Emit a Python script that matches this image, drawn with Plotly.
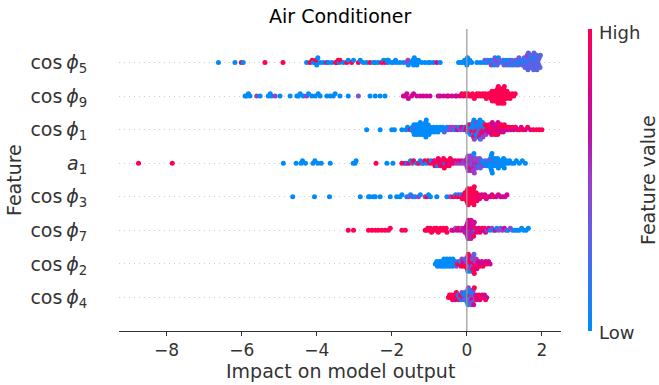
import numpy as np
import plotly.graph_objects as go

# ---------------- data (SHAP value, normalised feature value) ----------------
feature_labels = [
    "cos\u2009<i>ϕ</i><sub>5</sub>",
    "cos\u2009<i>ϕ</i><sub>9</sub>",
    "cos\u2009<i>ϕ</i><sub>1</sub>",
    "<i>a</i><sub>1</sub>",
    "cos\u2009<i>ϕ</i><sub>3</sub>",
    "cos\u2009<i>ϕ</i><sub>7</sub>",
    "cos\u2009<i>ϕ</i><sub>2</sub>",
    "cos\u2009<i>ϕ</i><sub>4</sub>",
]

cos_phi5 = [
    (-6.62, 0), (-6.18, 0), (-6.01, 1), (-5.96, 0), (-5.38, 1), (-4.90, 1),
    (-4.27, 0), (-4.18, 1), (-4.12, 1), (-4.09, 0), (-4.04, 0), (-4.02, 1), (-4.0, 0), (-3.97, 0),
    (-3.91, 0), (-3.82, 0), (-3.73, 1), (-3.69, 0), (-3.6, 0), (-3.5, 1), (-3.47, 1), (-3.43, 1),
    (-3.4, 0), (-3.38, 1), (-3.29, 0), (-3.2, 1), (-3.16, 0), (-3.07, 1), (-3.02, 0), (-2.89, 1),
    (-2.84, 0), (-2.76, 0), (-2.67, 0), (-2.58, 1), (-2.49, 0), (-2.44, 0), (-2.36, 0), (-2.27, 1),
    (-2.22, 0), (-2.18, 1), (-2.13, 0), (-2.1, 0), (-2.09, 0), (-2.0, 0), (-1.96, 0), (-1.9, 0),
    (-1.87, 0), (-1.78, 0), (-1.69, 0), (-1.6, .5), (-1.57, .5), (-1.56, 0), (-1.47, 0), (-1.44, 0),
    (-1.42, 0), (-1.4, 0), (-1.38, 0), (-1.35, 0), (-1.33, 0), (-1.31, 0), (-1.29, 0), (-1.2, 0),
    (-1.11, 0), (-1.02, 0), (-0.98, 0), (-0.89, 0), (-0.8, .75), (-0.71, 0),
    (-0.22, 0), (-0.15, 0), (-0.1, 0), (-0.06, 0), (-0.03, 0), (-0.01, 0), (0.0, 0), (0.02, 0),
    (0.05, 0), (0.08, 0), (0.13, 0),
    (0.27, 0), (0.36, 0), (0.45, 0), (0.48, .3), (0.53, 0), (0.56, .3),
    (0.62, .3), (0.63, 0), (0.65, .5), (0.7, .3), (0.71, .3), (0.73, 0), (0.75, .3),
    (0.78, .3), (0.79, .5), (0.81, .3), (0.84, 0), (0.86, .3), (0.87, .3),
    (0.95, 0), (0.97, .3), (0.99, .3), (1.03, .3), (1.05, 0), (1.07, .3),
    (1.12, .3), (1.13, 0), (1.15, .3), (1.17, .3), (1.2, .3), (1.22, 0), (1.24, .3),
    (1.3, .3), (1.31, .3), (1.33, 0), (1.35, .3), (1.38, .3), (1.39, .3), (1.41, 0),
    (1.47, .3), (1.48, .3), (1.5, .3), (1.51, 0), (1.52, .3), (1.53, .3),
    (1.55, .3), (1.56, .3), (1.57, 0), (1.58, .3), (1.59, .3), (1.6, .3), (1.61, .5),
    (1.63, .3), (1.64, .3), (1.65, 0), (1.66, .3), (1.67, .3), (1.68, .3), (1.69, .3), (1.7, .3),
    (1.72, .3), (1.73, .3), (1.74, .3), (1.75, 0), (1.76, .3), (1.77, .3), (1.78, .3), (1.79, .3),
    (1.81, .3), (1.82, .3), (1.83, .3), (1.84, 0), (1.85, .3), (1.86, .3), (1.87, .3),
    (1.89, .3), (1.9, .3), (1.92, .3), (1.93, .3), (1.95, .3), (1.96, .3),
]

cos_phi9 = [
    (-5.91, 0), (-5.87, 0), (-5.82, 0), (-5.78, 0), (-5.6, .5), (-5.51, 0), (-5.29, 0), (-5.24, 0),
    (-5.2, 0), (-5.11, .5), (-4.98, 0), (-4.71, 0), (-4.53, 0), (-4.49, 0), (-4.44, 0), (-4.36, 0),
    (-4.27, .5), (-4.22, 0), (-4.13, 0), (-4.04, 0), (-3.96, 0), (-3.91, 0), (-3.73, 0), (-3.64, 0),
    (-3.56, 0), (-3.51, 0), (-3.38, 0), (-3.16, 0), (-2.89, .4), (-2.58, 0), (-2.44, 0), (-2.31, 0),
    (-2.18, 0),
    (-1.69, .75), (-1.64, .75), (-1.6, .75), (-1.56, .7), (-1.47, .75), (-1.42, .75), (-1.33, .7),
    (-1.24, .75), (-1.16, .75), (-1.07, .75), (-0.98, .7), (-0.76, .75), (-0.71, .75), (-0.62, .7),
    (-0.53, .75), (-0.49, .75), (-0.4, .75), (-0.31, .7), (-0.27, .75), (-0.18, .75), (-0.13, 1),
    (-0.09, 1), (-0.05, 1), (0.0, 1), (0.03, 1), (0.08, 1), (0.12, 1), (0.15, 1), (0.2, 1),
    (0.23, 1), (0.27, 1), (0.31, 1), (0.34, 1), (0.38, 1), (0.42, 1), (0.45, 1), (0.49, 1),
    (0.52, 1), (0.55, 1), (0.58, 1), (0.6, 1), (0.63, 1), (0.65, 1),
    (0.67, 1), (0.68, 1), (0.7, 1), (0.71, 1), (0.72, 1),
    (0.74, 1), (0.75, 1), (0.76, 1), (0.77, 1), (0.78, 1), (0.79, 1), (0.8, 1),
    (0.82, 1), (0.83, 1), (0.84, 1), (0.85, 1), (0.86, 1), (0.87, 1), (0.88, 1), (0.89, 1),
    (0.9, 1), (0.91, 1), (0.92, 1), (0.93, 1), (0.94, 1), (0.95, 1), (0.96, 1),
    (0.98, 1), (0.99, 1), (1.0, 1), (1.01, 1), (1.02, 1),
    (1.05, 1), (1.07, 1), (1.09, 1), (1.12, 1), (1.15, 1), (1.18, 1), (1.21, 1), (1.25, 1), (1.29, 1),
]

cos_phi1 = [
    (-2.67, 0), (-2.31, 0), (-2.0, 0), (-1.93, 0), (-1.73, 0), (-1.62, 0), (-1.58, 0), (-1.51, 1),
    (-1.47, 0), (-1.45, 0),
    (-1.42, 0), (-1.41, 0), (-1.4, 0), (-1.38, 0), (-1.37, .3), (-1.35, 0), (-1.34, 0), (-1.33, 0),
    (-1.31, 0), (-1.3, 0), (-1.28, 0), (-1.27, 0), (-1.25, 0), (-1.24, 0), (-1.22, 0), (-1.21, 0),
    (-1.2, 0), (-1.18, 0), (-1.17, 0), (-1.16, 0), (-1.14, 0), (-1.13, 0), (-1.12, 0), (-1.11, 0),
    (-1.1, 0), (-1.09, 0), (-1.08, 0), (-1.07, 0), (-1.06, 0), (-1.04, 0), (-1.03, 0), (-1.01, 0),
    (-0.99, 0), (-0.97, 0),
    (-0.94, 0), (-0.91, 0), (-0.88, 0), (-0.86, 0), (-0.83, 0), (-0.8, 0), (-0.77, 0), (-0.74, 0),
    (-0.71, 0), (-0.68, 0), (-0.64, 0), (-0.6, .3), (-0.56, 0), (-0.53, 0), (-0.49, .3), (-0.45, .5),
    (-0.41, .5), (-0.37, .5), (-0.33, 0), (-0.29, .5), (-0.25, .75), (-0.21, 0), (-0.17, .5),
    (-0.13, 1), (-0.09, .5), (-0.05, 0), (-0.02, .75),
    (0.0, 1), (0.02, 0), (0.04, .5), (0.05, 1), (0.06, 0), (0.08, .3), (0.09, 1), (0.1, 0),
    (0.12, .5), (0.13, 0), (0.14, 1),
    (0.15, 0), (0.16, .3), (0.17, 0), (0.18, 1), (0.19, 0), (0.2, .5), (0.21, 0), (0.22, .3),
    (0.23, 1), (0.24, 0), (0.25, 0), (0.26, .5), (0.27, 0), (0.28, 1), (0.29, 0), (0.3, .3),
    (0.31, 0), (0.32, .5), (0.33, 0), (0.34, 1), (0.35, 0), (0.36, .3), (0.37, 0), (0.38, .5),
    (0.39, 1), (0.4, 0), (0.41, .75), (0.42, 0), (0.43, .5), (0.44, 1), (0.46, 0), (0.47, .75),
    (0.49, 1), (0.51, .5), (0.53, .75),
    (0.55, 1), (0.57, .75), (0.59, 1), (0.6, .75), (0.62, 1), (0.63, .75), (0.65, 1), (0.66, .75),
    (0.68, .75), (0.69, 1), (0.7, .75), (0.72, 1), (0.73, .75), (0.75, 1), (0.76, .75), (0.78, .75),
    (0.79, 1), (0.8, .75), (0.82, 1), (0.83, .75), (0.85, .75), (0.87, 1), (0.89, .75), (0.91, 1),
    (0.93, .75), (0.95, 1), (0.97, .75), (1.0, 1), (1.03, .75), (1.06, 1), (1.09, .75),
    (1.13, 1), (1.17, .75), (1.21, 1), (1.25, .75), (1.3, 1), (1.35, .75), (1.4, 1), (1.45, .75),
    (1.5, 1), (1.56, .75), (1.62, 1), (1.7, .75), (1.78, 1), (1.86, 1), (1.93, 1), (2.0, 1),
]

a_1 = [
    (-8.75, 1), (-7.85, 1),
    (-4.89, 0), (-4.55, 0), (-4.42, 0), (-4.38, 0), (-4.3, 0), (-4.1, 0), (-4.05, 0), (-3.97, 0),
    (-3.88, 0), (-3.64, 0), (-3.03, 0), (-2.98, 0), (-2.95, 0), (-2.42, 1), (-2.13, 0), (-1.97, 0),
    (-1.73, 1), (-1.65, .75), (-1.6, 0), (-1.55, 1), (-1.5, 0), (-1.45, .5), (-1.42, 1),
    (-1.33, 0), (-1.28, 1), (-1.24, 0), (-1.19, .5), (-1.16, 0), (-1.12, 1), (-1.07, 0), (-1.03, 1),
    (-0.98, 1), (-0.95, 0),
    (-0.9, 1), (-0.87, .75), (-0.85, 1), (-0.82, 1), (-0.8, 1), (-0.78, 0), (-0.76, 1), (-0.74, 1),
    (-0.72, .75), (-0.7, 1), (-0.68, 1), (-0.66, 1), (-0.64, .75), (-0.62, 1), (-0.6, 1), (-0.58, 0),
    (-0.56, 1), (-0.54, 1), (-0.52, .75), (-0.5, 1), (-0.47, 1), (-0.44, 1), (-0.41, .75), (-0.38, 1),
    (-0.35, 1), (-0.31, .75), (-0.27, .5), (-0.23, 1), (-0.19, .5), (-0.15, .75), (-0.11, .5),
    (-0.07, .5),
    (-0.04, .5), (-0.02, .6), (0.0, .5), (0.01, .5), (0.02, .6), (0.03, .5), (0.04, .5), (0.05, .4),
    (0.06, .6), (0.07, .5), (0.08, .5), (0.09, 1), (0.1, .5), (0.11, .6), (0.12, .5), (0.13, .5),
    (0.14, .4), (0.15, .5), (0.16, .6), (0.17, .5), (0.18, .5), (0.19, 0), (0.2, .5), (0.21, .6),
    (0.22, .5), (0.24, .5), (0.25, .4), (0.26, .5), (0.28, .6), (0.3, .5), (0.32, 0), (0.34, .5),
    (0.36, .3), (0.38, .5), (0.4, 0), (0.43, .5), (0.46, 0), (0.49, .3),
    (0.52, 0), (0.54, 0), (0.56, .3), (0.58, 0), (0.6, 0), (0.61, 0), (0.62, 0), (0.63, .3),
    (0.64, 0), (0.65, 0), (0.66, 0), (0.67, 0), (0.68, 0), (0.7, 0), (0.71, .3), (0.72, 0),
    (0.74, 0), (0.76, 0), (0.78, 0), (0.8, 0), (0.82, 0), (0.84, 0), (0.86, .3), (0.88, 0),
    (0.9, 0), (0.92, 0), (0.94, 0), (0.96, 0), (0.98, 0), (1.0, 0), (1.03, 0), (1.06, 0),
    (1.1, 0), (1.14, 0), (1.2, 0), (1.26, 0), (1.32, 0), (1.4, 0), (1.48, 0), (1.56, 0),
]

cos_phi3 = [
    (-4.64, 0), (-4.06, 0), (-3.66, 0), (-2.84, 0), (-2.62, 0), (-2.58, 0), (-2.49, 0), (-2.44, 0),
    (-2.31, 0), (-2.04, 0), (-1.87, 0), (-1.78, 0), (-1.73, 0), (-1.6, 0), (-1.55, .4), (-1.5, 0),
    (-1.44, .5), (-1.38, 0), (-1.29, .5), (-1.24, 0), (-1.11, .5), (-1.06, 1), (-1.02, 0),
    (-0.97, 0), (-0.8, 0), (-0.53, 0), (-0.44, .5), (-0.36, 1), (-0.3, 0), (-0.26, 1), (-0.22, .5),
    (-0.18, 1), (-0.15, 0), (-0.12, 1), (-0.1, 1), (-0.08, .75),
    (-0.06, 1), (-0.05, 1), (-0.04, 1), (-0.03, 1), (-0.02, 1), (-0.01, 1), (0.0, 1), (0.01, 1),
    (0.02, 1), (0.03, 1), (0.04, 1), (0.05, 1), (0.06, 1), (0.07, 1), (0.08, 1), (0.085, 1),
    (0.09, 1), (0.1, 1), (0.11, 1), (0.12, 1), (0.13, 1), (0.135, 1), (0.14, 1), (0.15, 1),
    (0.16, 1), (0.17, 1), (0.18, 1), (0.19, 1), (0.2, 1), (0.21, .75), (0.22, 1), (0.23, 1),
    (0.25, 1), (0.27, 1), (0.29, .75), (0.31, 1), (0.34, .75), (0.37, 1), (0.4, .75), (0.44, 1),
    (0.48, .75), (0.52, .75), (0.57, 1), (0.62, .75), (0.67, .75), (0.72, 1), (0.78, .75),
    (0.84, .75), (0.9, .75), (0.96, .75), (1.02, .75), (1.07, .75),
]

cos_phi7 = [
    (-3.16, 1), (-3.02, 1), (-2.62, 1), (-2.53, 1), (-2.44, 1), (-2.36, 1), (-2.27, 1), (-2.18, 1),
    (-2.09, 1), (-2.04, 1), (-1.73, 1), (-1.64, 1),
    (-1.11, 1), (-1.07, 1), (-1.04, 1), (-1.0, 1), (-0.97, 1), (-0.94, 1), (-0.9, 1), (-0.86, 1),
    (-0.83, 1), (-0.8, 1), (-0.76, 1), (-0.73, 1), (-0.7, 1), (-0.66, 1), (-0.62, 1), (-0.58, 1),
    (-0.55, 1), (-0.53, 1),
    (-0.4, .75), (-0.35, .75), (-0.3, .5), (-0.26, .75), (-0.22, 1), (-0.18, .75), (-0.14, .5),
    (-0.1, .75), (-0.07, .75),
    (-0.05, .75), (-0.04, .6), (-0.03, .75), (-0.02, .6), (-0.01, .75), (0.0, .6), (0.01, .75),
    (0.02, .6), (0.03, .75), (0.035, .6), (0.04, .75), (0.05, .6), (0.06, .75), (0.065, .6),
    (0.07, .75), (0.08, .6), (0.085, .75), (0.09, .6), (0.1, .75), (0.11, .6), (0.115, .75),
    (0.12, .6), (0.13, .75), (0.14, .6), (0.15, .75), (0.16, .6), (0.17, .75), (0.18, 1),
    (0.2, .75), (0.22, 0), (0.24, 1), (0.26, .75),
    (0.29, 1), (0.32, .75), (0.35, 1), (0.38, .75), (0.41, 1), (0.44, .75), (0.47, 1), (0.5, .75),
    (0.54, .5), (0.58, .75),
    (0.63, 0), (0.67, .5), (0.72, 0), (0.76, .75), (0.8, 0), (0.85, .5), (0.9, .3), (0.95, .5),
    (1.0, .75), (1.05, .5), (1.1, 0), (1.16, .5), (1.22, .3), (1.28, 0), (1.34, 0), (1.4, 0),
    (1.46, 0), (1.52, 0), (1.58, 0), (1.64, 0),
]

cos_phi2 = [
    (-0.84, 0), (-0.8, 0), (-0.78, 0), (-0.75, 0), (-0.72, 0), (-0.7, 0), (-0.68, 0), (-0.66, 0),
    (-0.63, 0), (-0.61, 0), (-0.59, 0), (-0.57, 0), (-0.55, 0), (-0.53, 0), (-0.51, 0), (-0.49, 0),
    (-0.47, 0), (-0.45, 0), (-0.43, 0), (-0.41, 0), (-0.39, 0), (-0.37, 0), (-0.34, 0), (-0.31, 0),
    (-0.28, .3),
    (-0.25, 1), (-0.22, .5), (-0.2, 1), (-0.17, 0), (-0.15, 1), (-0.13, .5), (-0.11, 1),
    (-0.09, .75), (-0.07, 1), (-0.05, .3), (-0.03, 1),
    (-0.02, .5), (-0.01, 1), (0.0, .3), (0.01, 1), (0.02, .5), (0.03, 0), (0.04, 1), (0.05, .5),
    (0.06, 1), (0.07, .3), (0.08, 1), (0.09, .5), (0.1, 1), (0.11, 0), (0.12, .75), (0.13, 1),
    (0.14, .5), (0.15, .3), (0.16, 1), (0.17, .5), (0.18, 1), (0.19, .3), (0.2, 1), (0.21, .75),
    (0.22, .5), (0.23, 1), (0.25, .5), (0.27, .75), (0.29, 1),
    (0.31, .75), (0.34, 1), (0.37, .75), (0.4, .75), (0.43, 1), (0.46, .75), (0.5, .75), (0.54, 1),
    (0.58, .75), (0.62, .75),
]

cos_phi4 = [
    (-0.49, 1), (-0.46, 1), (-0.43, 1), (-0.41, 1), (-0.38, 1), (-0.36, 1), (-0.33, 1),
    (-0.31, .75), (-0.28, 1), (-0.26, 1), (-0.23, 0), (-0.21, 1), (-0.19, .3),
    (-0.17, 1), (-0.15, 0), (-0.13, .5), (-0.11, 1), (-0.09, 0), (-0.07, .3), (-0.05, 0),
    (-0.03, .5), (-0.02, 0), (-0.01, .3), (0.0, 0), (0.01, 0), (0.02, .3), (0.03, 0), (0.04, .5),
    (0.05, 0), (0.06, 1), (0.07, .3), (0.08, 0), (0.09, .5), (0.1, 0), (0.11, .3), (0.12, 0),
    (0.13, .5), (0.14, .75), (0.15, 0), (0.16, .3), (0.17, .5), (0.18, .75), (0.2, 1), (0.22, .5),
    (0.24, .75), (0.26, 1),
    (0.29, .75), (0.32, 1), (0.35, .75), (0.38, 1), (0.41, .75), (0.44, 1), (0.47, .75), (0.5, 1),
    (0.53, .75),
]

rows = [cos_phi5, cos_phi9, cos_phi1, a_1, cos_phi3, cos_phi7, cos_phi2, cos_phi4]

x_ticks = [-8, -6, -4, -2, 0, 2]
x_ticktext = ["\u22128", "\u22126", "\u22124", "\u22122", "0", "2"]

# SHAP red-blue colour map
colorscale = [
    [0.0, "#008bfb"], [0.2, "#3b72f2"], [0.35, "#6a5ae0"], [0.5, "#9a3fc8"],
    [0.65, "#bb12a6"], [0.8, "#dd0088"], [1.0, "#ff0052"],
]


def swarm_offsets(vals, bin_width=0.08, row_height=0.4):
    """SHAP-style beeswarm layering (deterministic)."""
    vals = np.asarray(vals, dtype=float)
    q = np.round(vals / bin_width)
    order = np.argsort(q, kind="stable")
    ys = np.zeros(len(vals))
    layer, last = 0, None
    for i in order:
        if q[i] != last:
            layer = 0
        ys[i] = np.ceil(layer / 2) * ((layer % 2) * 2 - 1)
        layer += 1
        last = q[i]
    ys *= 0.9 * (row_height / np.max(ys + 1))
    return ys


n = len(rows)
fig = go.Figure()
# draw bottom row first (as SHAP does)
for idx in reversed(range(n)):
    pos = n - 1 - idx
    data = rows[idx]
    xs = [d[0] for d in data]
    cs = [d[1] for d in data]
    ys = pos + swarm_offsets(xs)
    fig.add_trace(go.Scatter(
        x=xs, y=ys, mode="markers",
        marker=dict(size=5, color=cs, coloraxis="coloraxis", line=dict(width=0)),
        showlegend=False, hoverinfo="skip",
    ))

fig.add_shape(type="line", xref="x", yref="paper", x0=0, x1=0, y0=0, y1=1,
              line=dict(color="#999999", width=1.2), layer="above")

font_family = "DejaVu Sans"
fig.update_layout(
    width=659, height=385,
    margin=dict(l=119, r=98, t=29, b=54, autoexpand=False),
    plot_bgcolor="white", paper_bgcolor="white",
    font=dict(family=font_family, color="#333333"),
    coloraxis=dict(
        colorscale=colorscale, cmin=0, cmax=1,
        colorbar=dict(
            thickness=4, len=1.0, lenmode="fraction", x=1.061, xanchor="left",
            y=0.5, yanchor="middle", xpad=0, ypad=0, outlinewidth=0,
            showticklabels=False, ticks="",
        ),
    ),
    xaxis=dict(
        range=[-9.27, 2.51], tickvals=x_ticks, ticktext=x_ticktext,
        showgrid=False, zeroline=False, showline=True, linecolor="#333333", linewidth=1,
        ticks="outside", ticklen=4, tickwidth=1, tickcolor="#333333",
        tickfont=dict(size=17, color="#333333"),
    ),
    yaxis=dict(
        range=[-1, n], tickvals=list(range(n)), ticktext=list(reversed(feature_labels)),
        showgrid=True, gridcolor="#cccccc", gridwidth=1, griddash="1px,4px",
        zeroline=False, showline=False,
        ticks="outside", ticklen=27, tickcolor="rgba(0,0,0,0)",
        tickfont=dict(size=19, color="#333333"),
    ),
)

annotations = [
    dict(text="Air Conditioner", x=0.5, y=(331 - 16) / 302, xref="paper", yref="paper",
         xanchor="center", yanchor="middle", showarrow=False, font=dict(size=19, color="#000000")),
    dict(text="Impact on model output", x=0.5, y=(331 - 371) / 302, xref="paper", yref="paper",
         xanchor="center", yanchor="middle", showarrow=False, font=dict(size=19, color="#333333")),
    dict(text="Feature", x=(14 - 119) / 442, y=0.5, xref="paper", yref="paper",
         xanchor="center", yanchor="middle", textangle=-90, showarrow=False,
         font=dict(size=19, color="#333333")),
    dict(text="High", x=(597 - 119) / 442, y=(331 - 32) / 302, xref="paper", yref="paper",
         xanchor="left", yanchor="middle", showarrow=False, font=dict(size=18, color="#333333")),
    dict(text="Low", x=(597 - 119) / 442, y=(331 - 332) / 302, xref="paper", yref="paper",
         xanchor="left", yanchor="middle", showarrow=False, font=dict(size=18, color="#333333")),
    dict(text="Feature value", x=(648 - 119) / 442, y=0.5, xref="paper", yref="paper",
         xanchor="center", yanchor="middle", textangle=-90, showarrow=False,
         font=dict(size=19, color="#333333")),
]
fig.update_layout(annotations=annotations)

fig.write_html("out.html", config={"displayModeBar": False},
               post_script="document.body.style.margin='0px';")
